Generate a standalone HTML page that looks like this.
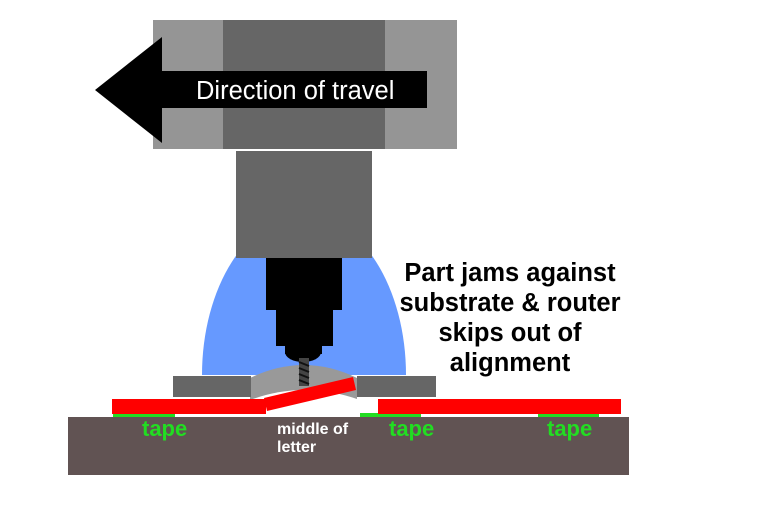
<!DOCTYPE html>
<html><head><style>
body{margin:0;background:#fff;}
</style></head><body>
<svg width="768" height="506" viewBox="0 0 768 506" xmlns="http://www.w3.org/2000/svg" style="display:block">
<rect x="153" y="20" width="304" height="129" fill="#959595"/>
<rect x="223" y="20" width="162" height="129" fill="#666"/>
<polygon points="95,90 162,37 162,71 427,71 427,108 162,108 162,143" fill="#000"/>
<text x="196" y="99" font-family="Liberation Sans, sans-serif" font-size="25.5" fill="#fff">Direction of travel</text>
<path d="M202,375 A102,160 0 0 1 406,375 Z" fill="#6699ff"/>
<rect x="236" y="151" width="136" height="107" fill="#666"/>
<path d="M250,378 Q304,352 357,378 L357,400 L250,400 Z" fill="#999"/>
<rect x="266" y="258" width="76" height="52" fill="#000"/>
<rect x="276" y="308" width="57" height="38" fill="#000"/>
<rect x="285" y="344" width="37" height="10" fill="#000"/>
<ellipse cx="303" cy="352" rx="18" ry="10" fill="#000"/>
<rect x="299" y="358" width="10" height="28" fill="#444"/>
<path d="M299,362 l10,4 M299,368 l10,4 M299,374 l10,4 M299,380 l10,4" stroke="#111" stroke-width="2"/>
<rect x="173" y="376" width="78" height="21" fill="#666"/>
<rect x="357" y="376" width="79" height="21" fill="#666"/>
<path d="M250,400 Q304,380 360,400 L360,405 L250,405 Z" fill="#fff"/>
<rect x="68" y="417" width="561" height="58" fill="#615353"/>
<rect x="113" y="413" width="62" height="4" fill="#22dd22"/>
<rect x="360" y="413" width="61" height="4" fill="#22dd22"/>
<rect x="538" y="413" width="61" height="4" fill="#22dd22"/>
<rect x="112" y="399" width="154" height="15" fill="#ff0000"/>
<rect x="378" y="399" width="243" height="15" fill="#ff0000"/>
<polygon points="264,398 353,377 356,390 267,411" fill="#ff0000"/>
<g font-family="Liberation Sans, sans-serif" font-weight="bold">
<text x="142" y="436" font-size="22" fill="#22dd22">tape</text>
<text x="389" y="436" font-size="22" fill="#22dd22">tape</text>
<text x="547" y="436" font-size="22" fill="#22dd22">tape</text>
<text x="277" y="434" font-size="16" fill="#fff">middle of</text>
<text x="277" y="452" font-size="16" fill="#fff">letter</text>
<g font-size="25.5" fill="#000" text-anchor="middle">
<text x="510" y="281">Part jams against</text>
<text x="510" y="311">substrate &amp; router</text>
<text x="510" y="341">skips out of</text>
<text x="510" y="371">alignment</text>
</g>
</g>
</svg>
</body></html>
